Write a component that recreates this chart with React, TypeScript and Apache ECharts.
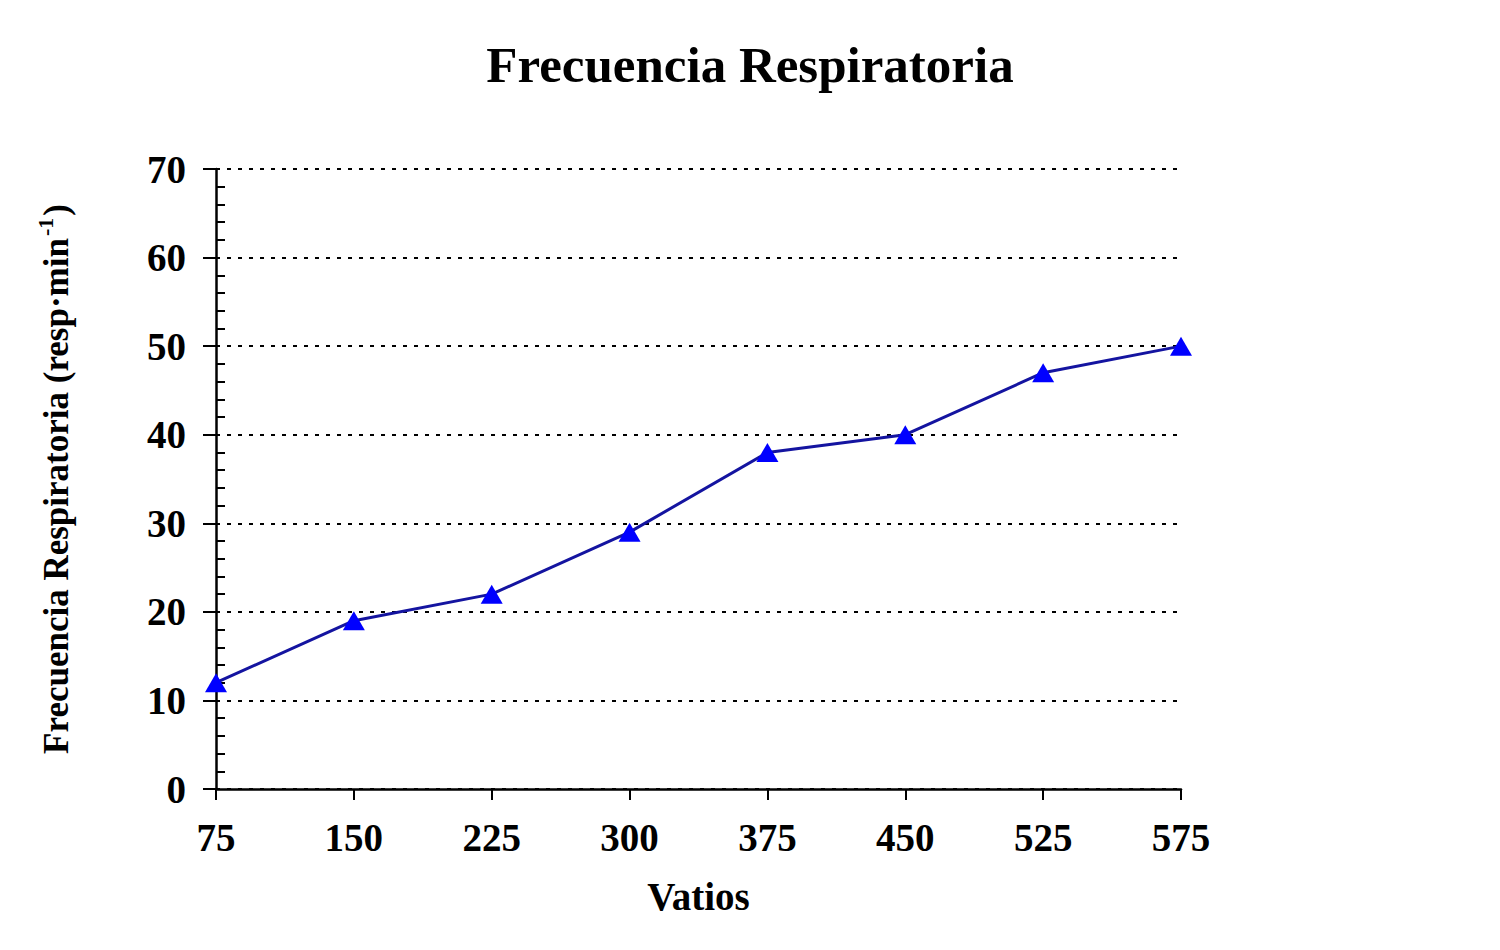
import React, { useEffect, useRef } from "react";
import * as echarts from "echarts";

const categories = ["75", "150", "225", "300", "375", "450", "525", "575"];
const values = [12, 19, 22, 29, 38, 40, 47, 50];
const titleText = "Frecuencia Respiratoria";
const xName = "Vatios";

const FONT = "'Liberation Serif', 'Times New Roman', serif";

export default function App() {
  const ref = useRef<HTMLDivElement>(null);
  useEffect(() => {
    if (!ref.current) return;
    const chart = echarts.init(ref.current, undefined, { renderer: "svg" });
    chart.setOption({
      animation: false,
      backgroundColor: "#ffffff",
      title: {
        text: titleText,
        left: "center",
        top: 34,
        textStyle: { fontFamily: FONT, fontWeight: "bold", fontSize: 51, color: "#000" },
      },
      grid: { left: 216, right: 319, top: 169, bottom: 161, containLabel: false },
      xAxis: {
        type: "category",
        data: categories,
        boundaryGap: false,
        name: xName,
        nameLocation: "middle",
        nameGap: 88,
        nameTextStyle: { fontFamily: FONT, fontWeight: "bold", fontSize: 39, color: "#000" },
        axisLine: { lineStyle: { color: "#000", width: 2.5 } },
        axisTick: { show: true, alignWithLabel: true, length: 11, lineStyle: { color: "#000", width: 2 } },
        axisLabel: { fontFamily: FONT, fontWeight: "bold", fontSize: 39, color: "#000", margin: 29 },
        splitLine: { show: false },
      },
      yAxis: [
        {
          type: "value",
          min: 0,
          max: 70,
          interval: 10,
          name: "{a|Frecuencia Respiratoria (resp·min}{s|-1}{a|)}",
          nameLocation: "middle",
          nameRotate: 90,
          nameGap: 142,
          nameTextStyle: {
            fontFamily: FONT,
            fontWeight: "bold",
            color: "#000",
            rich: {
              a: { fontFamily: FONT, fontWeight: "bold", fontSize: 35, color: "#000", lineHeight: 40, verticalAlign: "bottom" },
              s: { fontFamily: FONT, fontWeight: "bold", fontSize: 22, color: "#000", lineHeight: 40, verticalAlign: "top", padding: [0, 2, 14, 2] },
            },
          },
          axisLine: { show: true, lineStyle: { color: "#000", width: 2.5 } },
          axisTick: { show: true, length: 13, lineStyle: { color: "#000", width: 2 } },
          axisLabel: { fontFamily: FONT, fontWeight: "bold", fontSize: 39, color: "#000", margin: 30 },
          splitLine: { show: true, lineStyle: { color: "#000", width: 2, type: [4, 7] } },
        },
        {
          type: "value",
          min: 0,
          max: 70,
          interval: 10,
          position: "left",
          axisLine: { show: false },
          axisTick: { show: false, inside: true },
          minorTick: { show: true, splitNumber: 5, length: 9, lineStyle: { color: "#000", width: 2 } },
          axisLabel: { show: false },
          splitLine: { show: false },
        },
      ],
      series: [
        {
          type: "line",
          data: values,
          yAxisIndex: 0,
          lineStyle: { color: "#1414a0", width: 3 },
          symbol: "triangle",
          symbolSize: [22, 19],
          itemStyle: { color: "#0000ff" },
        },
      ],
    });
    return () => chart.dispose();
  }, []);
  return (
    <div
      ref={ref}
      style={{ position: "absolute", left: 0, top: 0, width: 1500, height: 950 }}
    />
  );
}
